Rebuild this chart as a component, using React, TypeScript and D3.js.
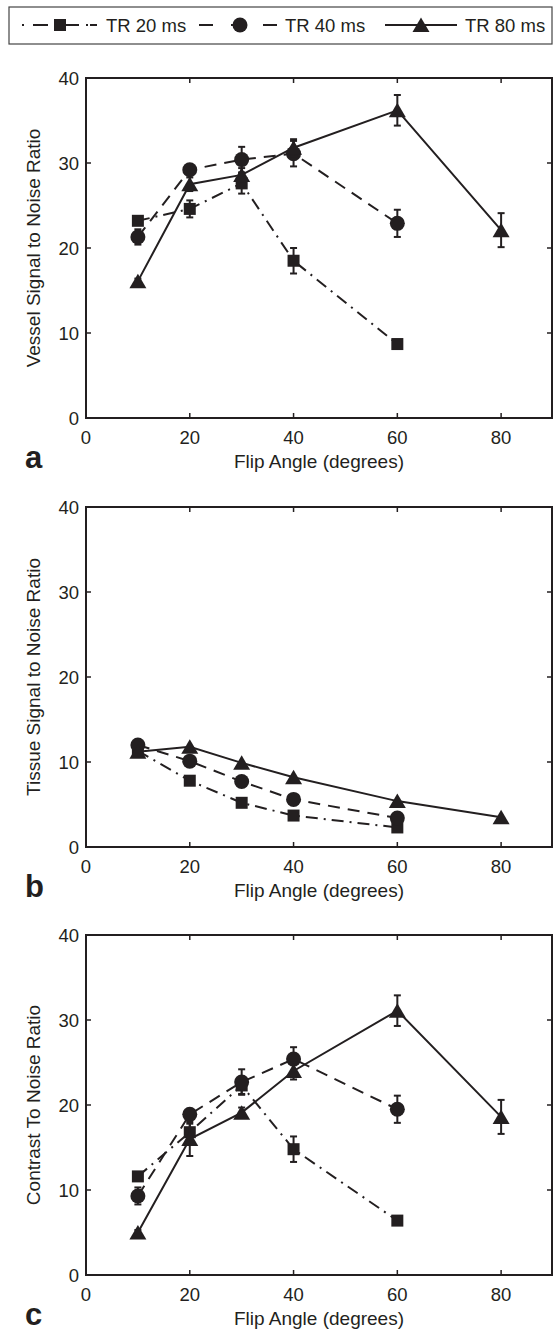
import { useEffect, useRef } from "react"
import * as d3 from "d3"

// flip angles (degrees)
const anglesShort = [10, 20, 30, 40, 60]
const anglesLong = [10, 20, 30, 40, 60, 80]

// a: vessel SNR
const vesselTR20 = [23.2, 24.6, 27.6, 18.5, 8.7]
const vesselTR20Err = [0.4, 1.0, 1.2, 1.5, 0.5]
const vesselTR40 = [21.3, 29.2, 30.4, 31.1, 22.9]
const vesselTR40Err = [0.9, 0.5, 1.5, 1.5, 1.6]
const vesselTR80 = [16.1, 27.5, 28.6, 31.8, 36.2, 22.1]
const vesselTR80Err = [0.3, 0.8, 0.8, 1.0, 1.8, 2.0]

// b: tissue SNR
const tissueTR20 = [11.3, 7.8, 5.2, 3.7, 2.3]
const tissueTR40 = [12.0, 10.1, 7.7, 5.6, 3.4]
const tissueTR80 = [11.2, 11.8, 9.9, 8.2, 5.4, 3.5]

// c: CNR
const cnrTR20 = [11.6, 16.8, 22.3, 14.8, 6.4]
const cnrTR20Err = [0.3, 1.0, 1.0, 1.5, 0.5]
const cnrTR40 = [9.3, 18.9, 22.7, 25.4, 19.5]
const cnrTR40Err = [1.0, 0.5, 1.5, 1.4, 1.6]
const cnrTR80 = [5.0, 16.0, 19.1, 24.0, 31.1, 18.6]
const cnrTR80Err = [0.3, 2.0, 0.6, 1.0, 1.8, 2.0]

const xTicks = [0, 20, 40, 60, 80]
const yTicks = [0, 10, 20, 30, 40]
const seriesLabels = ["TR 20 ms", "TR 40 ms", "TR 80 ms"]

const INK = "#231f20"
const FONT = "'Liberation Sans', Arial, sans-serif"

const styles = [
  { marker: "square", dash: "12 6 2 6" },
  { marker: "circle", dash: "12 8" },
  { marker: "triangle", dash: null },
]

const panels = [
  {
    letter: "a",
    ylabel: "Vessel Signal to Noise Ratio",
    series: [
      { x: anglesShort, y: vesselTR20, err: vesselTR20Err },
      { x: anglesShort, y: vesselTR40, err: vesselTR40Err },
      { x: anglesLong, y: vesselTR80, err: vesselTR80Err },
    ],
  },
  {
    letter: "b",
    ylabel: "Tissue Signal to Noise Ratio",
    series: [
      { x: anglesShort, y: tissueTR20, err: null },
      { x: anglesShort, y: tissueTR40, err: null },
      { x: anglesLong, y: tissueTR80, err: null },
    ],
  },
  {
    letter: "c",
    ylabel: "Contrast To Noise Ratio",
    series: [
      { x: anglesShort, y: cnrTR20, err: cnrTR20Err },
      { x: anglesShort, y: cnrTR40, err: cnrTR40Err },
      { x: anglesLong, y: cnrTR80, err: cnrTR80Err },
    ],
  },
]

const drawMarker = (g, kind, cx, cy) => {
  if (kind === "square") {
    g.append("rect").attr("x", cx - 6).attr("y", cy - 6).attr("width", 12).attr("height", 12).attr("fill", INK)
  } else if (kind === "circle") {
    g.append("circle").attr("cx", cx).attr("cy", cy).attr("r", 7.5).attr("fill", INK)
  } else {
    g.append("path")
      .attr("d", `M${cx},${cy - 7.5}L${cx + 8.5},${cy + 7}L${cx - 8.5},${cy + 7}Z`)
      .attr("fill", INK)
  }
}

const App = () => {
  const svgRef = useRef<SVGSVGElement>(null)

  useEffect(() => {
    const svg = d3.select(svgRef.current)
    svg.selectAll("*").remove()

    // Legend
    const legend = svg.append("g")
    legend
      .append("rect")
      .attr("x", 9)
      .attr("y", 7)
      .attr("width", 543)
      .attr("height", 37)
      .attr("fill", "white")
      .attr("stroke", "#444")
      .attr("stroke-width", 1.2)

    const legendItems = [
      { x0: 22, x1: 97, mid: 60, text: 106, dash: "2 9 15 7 2 7 15 7 2", style: styles[0] },
      { x0: 199, x1: 278, mid: 240, text: 285, dash: "14 18", style: styles[1] },
      { x0: 385, x1: 457, mid: 421, text: 465, dash: null, style: styles[2] },
    ]
    legendItems.forEach((it, i) => {
      legend
        .append("line")
        .attr("x1", it.x0)
        .attr("x2", it.x1)
        .attr("y1", 25)
        .attr("y2", 25)
        .attr("stroke", INK)
        .attr("stroke-width", 2)
        .attr("stroke-dasharray", it.dash)
      drawMarker(legend, it.style.marker, it.mid, 25)
      legend
        .append("text")
        .attr("x", it.text)
        .attr("y", 31.5)
        .style("font-family", FONT)
        .style("font-size", "18.5px")
        .attr("fill", INK)
        .text(seriesLabels[i])
    })

    const tops = [78, 507, 935]
    const plotH = 340
    const left = 86
    const right = 552

    panels.forEach((panel, pi) => {
      const top = tops[pi]
      const bottom = top + plotH
      const x = d3.scaleLinear().domain([0, 90]).range([left, 553])
      const y = d3.scaleLinear().domain([0, 40]).range([bottom, top])
      const g = svg.append("g")

      // series
      panel.series.forEach((s, si) => {
        const st = styles[si]
        const pts = s.x.map((v, k) => [v, s.y[k]])
        const line = d3
          .line()
          .x((d) => x(d[0]))
          .y((d) => y(d[1]))
        g.append("path")
          .datum(pts)
          .attr("d", line)
          .attr("fill", "none")
          .attr("stroke", INK)
          .attr("stroke-width", 2)
          .attr("stroke-dasharray", st.dash)

        if (s.err) {
          pts.forEach((d, k) => {
            const e = s.err[k]
            const cx = x(d[0])
            const y0 = y(d[1] - e)
            const y1 = y(d[1] + e)
            g.append("line").attr("x1", cx).attr("x2", cx).attr("y1", y0).attr("y2", y1).attr("stroke", INK).attr("stroke-width", 2)
            ;[y0, y1].forEach((yy) =>
              g.append("line").attr("x1", cx - 3.5).attr("x2", cx + 3.5).attr("y1", yy).attr("y2", yy).attr("stroke", INK).attr("stroke-width", 2)
            )
          })
        }
        pts.forEach((d) => drawMarker(g, st.marker, x(d[0]), y(d[1])))
      })

      // frame
      g.append("rect")
        .attr("x", left)
        .attr("y", top)
        .attr("width", right - left)
        .attr("height", plotH)
        .attr("fill", "none")
        .attr("stroke", INK)
        .attr("stroke-width", 2)

      xTicks.forEach((t) => {
        g.append("line").attr("x1", x(t)).attr("x2", x(t)).attr("y1", bottom).attr("y2", bottom - 5).attr("stroke", INK).attr("stroke-width", 1.5)
        g.append("line").attr("x1", x(t)).attr("x2", x(t)).attr("y1", top).attr("y2", top + 5).attr("stroke", INK).attr("stroke-width", 1.5)
        g.append("text")
          .attr("x", x(t))
          .attr("y", bottom + 26)
          .attr("text-anchor", "middle")
          .style("font-family", FONT)
          .style("font-size", "18.5px")
          .attr("fill", INK)
          .text(t)
      })
      yTicks.forEach((t) => {
        g.append("line").attr("x1", left).attr("x2", left + 5).attr("y1", y(t)).attr("y2", y(t)).attr("stroke", INK).attr("stroke-width", 1.5)
        g.append("line").attr("x1", right).attr("x2", right - 5).attr("y1", y(t)).attr("y2", y(t)).attr("stroke", INK).attr("stroke-width", 1.5)
        g.append("text")
          .attr("x", 79)
          .attr("y", y(t) + 6.5)
          .attr("text-anchor", "end")
          .style("font-family", FONT)
          .style("font-size", "18.5px")
          .attr("fill", INK)
          .text(t)
      })

      g.append("text")
        .attr("x", (left + right) / 2)
        .attr("y", bottom + 50)
        .attr("text-anchor", "middle")
        .style("font-family", FONT)
        .style("font-size", "19px")
        .attr("fill", INK)
        .text("Flip Angle (degrees)")

      g.append("text")
        .attr("transform", `translate(40,${top + plotH / 2}) rotate(-90)`)
        .attr("text-anchor", "middle")
        .style("font-family", FONT)
        .style("font-size", "19px")
        .attr("fill", INK)
        .text(panel.ylabel)

      g.append("text")
        .attr("x", 25)
        .attr("y", bottom + 50)
        .style("font-family", FONT)
        .style("font-size", "31px")
        .style("font-weight", "bold")
        .attr("fill", INK)
        .text(panel.letter)
    })
  }, [])

  return (
    <svg
      ref={svgRef}
      width={553}
      height={1332}
      style={{ position: "absolute", left: 0, top: 0, background: "white" }}
    ></svg>
  )
}

export default App
